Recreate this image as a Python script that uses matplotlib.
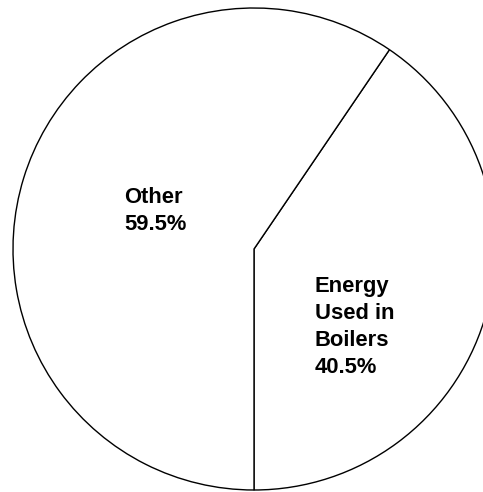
import matplotlib.pyplot as plt

# share of energy use
labels = ["Energy\nUsed in\nBoilers\n40.5%", "Other\n59.5%"]
shares = [40.5, 59.5]

fig = plt.figure(figsize=(4.83, 4.92), dpi=100)
ax = fig.add_axes([0, 0, 1, 1])

cx, cy, r = 254, 243, 241
ax.pie(
    shares,
    center=(cx, cy),
    radius=r,
    startangle=-90,
    counterclock=True,
    colors=["white", "white"],
    wedgeprops=dict(edgecolor="black", linewidth=1.0),
    frame=True,
)
ax.set_xlim(0, 483)
ax.set_ylim(0, 492)
ax.set_aspect("equal")
ax.axis("off")

font = dict(family="Liberation Sans", weight="bold", size=15.8, ha="left", va="top",
            linespacing=1.37)
ax.text(124, 492 - 187, labels[1], **font)
ax.text(315, 492 - 276, labels[0], **font)

fig.savefig("out.png", dpi=100, facecolor="white")
